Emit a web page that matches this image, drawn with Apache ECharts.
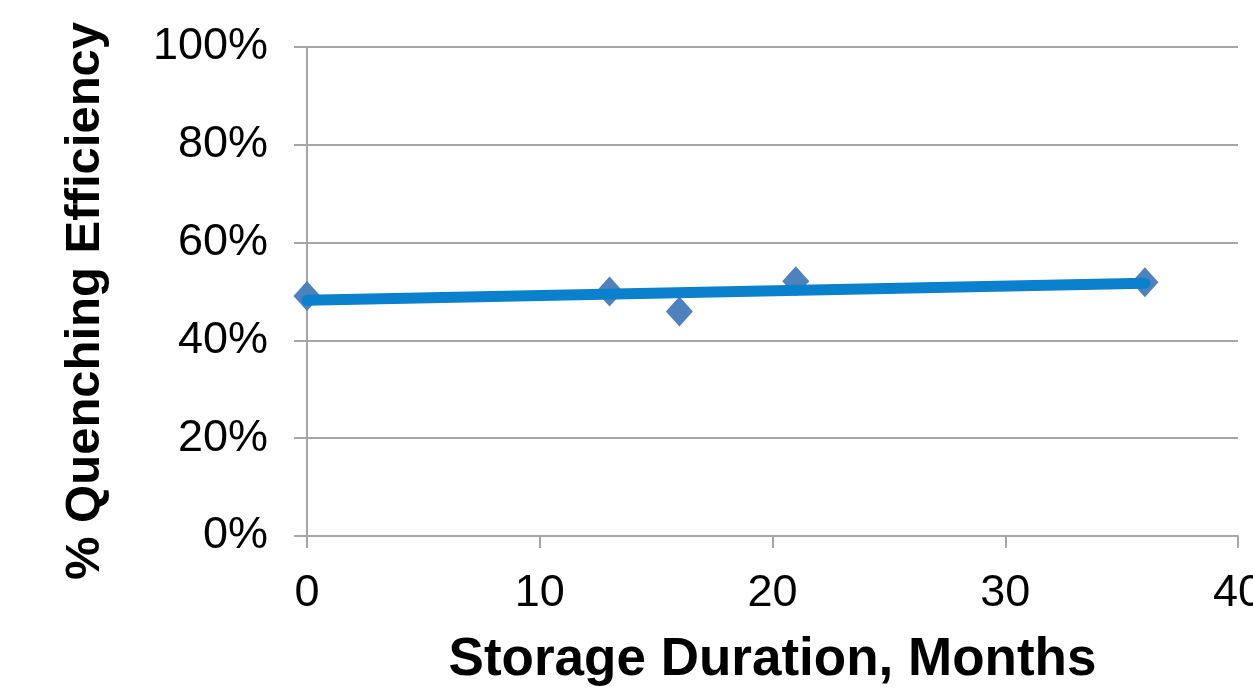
<!DOCTYPE html>
<html>
<head>
<meta charset="utf-8">
<script src="https://cdn.jsdelivr.net/npm/echarts@6/dist/echarts.min.js"></script>
<style>
html,body{margin:0;padding:0;background:#fff;overflow:hidden;}
#chart{width:1253px;height:691px;}
</style>
</head>
<body>
<div id="chart"></div>
<script>
// Data
const months = [0, 13, 16, 21, 36];
const efficiency = [49.1, 50.0, 45.9, 52.1, 51.9];
const trendX = [0, 36];
const trendY = [48.2, 51.7];
const xTicks = [0, 10, 20, 30, 40];
const yTicks = [0, 20, 40, 60, 80, 100];

const scatterData = months.map((m, i) => [m, efficiency[i]]);
const trendData = trendX.map((x, i) => [x, trendY[i]]);

const chart = echarts.init(document.getElementById('chart'), null, {renderer: 'canvas'});
const font = 'Liberation Sans, Arial, sans-serif';
chart.setOption({
  animation: false,
  backgroundColor: '#ffffff',
  grid: {left: 307, right: 15, top: 47, bottom: 155, containLabel: false, outerBoundsMode: 'none'},
  xAxis: {
    type: 'value',
    min: xTicks[0], max: xTicks[xTicks.length - 1], interval: 10,
    name: 'Storage Duration, Months',
    nameLocation: 'middle',
    nameGap: 98,
    nameTextStyle: {fontFamily: font, fontSize: 53, fontWeight: 'bold', color: '#000'},
    axisLine: {show: true, lineStyle: {color: '#a6a6a6', width: 2}},
    axisTick: {show: true, length: 12, lineStyle: {color: '#a6a6a6', width: 2}},
    axisLabel: {fontFamily: font, fontSize: 45, color: '#000', margin: 35, showMaxLabel: true, hideOverlap: false},
    splitLine: {show: false}
  },
  yAxis: {
    type: 'value',
    min: yTicks[0], max: yTicks[yTicks.length - 1], interval: 20,
    name: '% Quenching Efficiency',
    nameLocation: 'middle',
    nameGap: 197,
    nameRotate: 90,
    nameTextStyle: {fontFamily: font, fontSize: 49, fontWeight: 'bold', color: '#000', padding: [0, 19, 0, 0]},
    axisLine: {show: true, lineStyle: {color: '#a6a6a6', width: 2}},
    axisTick: {show: true, length: 13, lineStyle: {color: '#a6a6a6', width: 2}},
    axisLabel: {fontFamily: font, fontSize: 45, color: '#000', margin: 39, padding: [4, 0, 0, 0],
      formatter: v => v + '%'},
    splitLine: {show: true, lineStyle: {color: '#a6a6a6', width: 2}}
  },
  series: [
    {
      type: 'scatter',
      data: scatterData,
      symbol: 'diamond',
      symbolSize: [27, 30],
      itemStyle: {color: '#4f81bd', opacity: 1},
      z: 2
    },
    {
      type: 'line',
      data: trendData,
      showSymbol: false,
      symbol: 'none',
      lineStyle: {color: '#0b80cc', width: 11, cap: 'round'},
      z: 3
    }
  ]
});
</script>
</body>
</html>
